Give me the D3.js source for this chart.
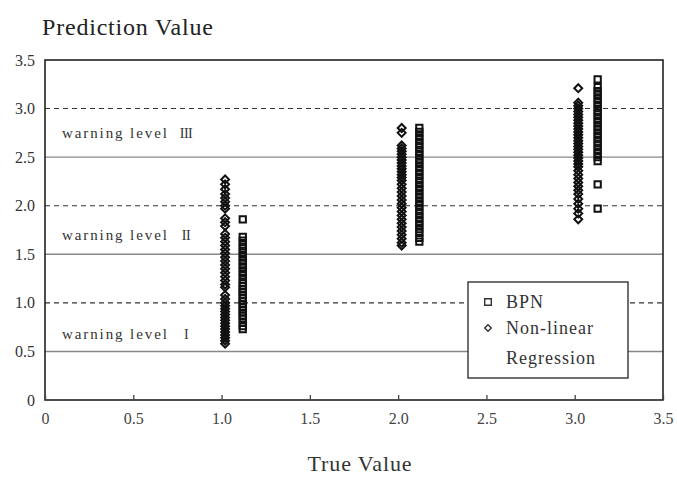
<!DOCTYPE html>
<html>
<head>
<meta charset="utf-8">
<script src="https://cdn.jsdelivr.net/npm/d3@7"></script>
<style>
  body { margin: 0; background: #fff; }
  svg text { font-family: "Liberation Serif", "DejaVu Serif", serif; }
</style>
</head>
<body>
<svg></svg>
<script>
// Chart dimensions and margins.
const width = 677;
const height = 477;
const marginTop = 60;
const marginRight = 14;
const marginBottom = 77;
const marginLeft = 45;

// Tick values
const xTicks = [0, 0.5, 1.0, 1.5, 2.0, 2.5, 3.0, 3.5];
const yTicks = [0, 0.5, 1.0, 1.5, 2.0, 2.5, 3.0, 3.5];
const dashedLevels = [1.0, 2.0, 3.0];
const solidLevels = [0.5, 1.5, 2.5];

// Warning level labels
const warnLabels = ["warning level", "warning level", "warning level"];
const warnNumerals = ["I", "II", "III"];
const warnY = [0.68, 1.7, 2.75];

// Non-linear regression predictions (diamonds), plotted just right of each true value
const nlr1x = 1.02;
const nlr1 = [2.27, 2.22, 2.17, 2.12, 2.08, 2.04, 2.00, 1.97, 1.87, 1.83, 1.79, 1.71, 1.67, 1.63,
  1.59, 1.55, 1.51, 1.47, 1.43, 1.39, 1.35, 1.31, 1.27, 1.23, 1.19, 1.16, 1.08, 1.04, 1.00, 0.97,
  0.94, 0.91, 0.88, 0.85, 0.82, 0.79, 0.76, 0.73, 0.70, 0.67, 0.64, 0.61, 0.58];
const nlr2x = 2.02;
const nlr2 = [2.80, 2.75, 2.62, 2.59, 2.56, 2.53, 2.50, 2.47, 2.44, 2.41, 2.38, 2.35, 2.32, 2.29,
  2.26, 2.22, 2.18, 2.14, 2.10, 2.06, 2.02, 1.98, 1.94, 1.90, 1.86, 1.82, 1.78, 1.74, 1.70, 1.66,
  1.62, 1.59];
const nlr3x = 3.02;
const nlr3 = [3.21, 3.06, 3.03, 3.00, 2.97, 2.94, 2.91, 2.88, 2.85, 2.82, 2.79, 2.76, 2.73, 2.70,
  2.67, 2.64, 2.61, 2.58, 2.55, 2.52, 2.49, 2.46, 2.43, 2.40, 2.36, 2.32, 2.28, 2.24, 2.20, 2.16,
  2.12, 2.07, 2.02, 1.97, 1.92, 1.86];

// BPN predictions (squares)
const bpn1x = 1.12;
const bpn1 = [1.86, 1.68, 1.64, 1.60, 1.56, 1.52, 1.48, 1.44, 1.40, 1.36, 1.32, 1.28, 1.24, 1.20,
  1.17, 1.14, 1.11, 1.08, 1.05, 1.02, 0.99, 0.96, 0.93, 0.90, 0.87, 0.84, 0.80, 0.76, 0.73];
const bpn2x = 2.12;
const bpn2 = [2.80, 2.76, 2.72, 2.68, 2.64, 2.60, 2.56, 2.52, 2.48, 2.44, 2.40, 2.36, 2.32, 2.28,
  2.24, 2.20, 2.16, 2.12, 2.08, 2.04, 2.00, 1.96, 1.92, 1.88, 1.84, 1.80, 1.76, 1.72, 1.67, 1.63];
const bpn3x = 3.13;
const bpn3 = [3.30, 3.22, 3.18, 3.14, 3.10, 3.06, 3.02, 2.98, 2.94, 2.90, 2.86, 2.82, 2.78, 2.74,
  2.70, 2.66, 2.62, 2.58, 2.54, 2.50, 2.46, 2.22, 1.97];

const nlrPoints = [
  ...nlr1.map(v => [nlr1x, v]),
  ...nlr2.map(v => [nlr2x, v]),
  ...nlr3.map(v => [nlr3x, v])
];
const bpnPoints = [
  ...bpn1.map(v => [bpn1x, v]),
  ...bpn2.map(v => [bpn2x, v]),
  ...bpn3.map(v => [bpn3x, v])
];

const serif = "Liberation Serif";

const svg = d3.select("svg")
    .attr("width", width)
    .attr("height", height)
    .attr("viewBox", [0, 0, width, height]);

const x = d3.scaleLinear([0, 3.5], [marginLeft, width - marginRight]);
const y = d3.scaleLinear([0, 3.5], [height - marginBottom, marginTop]);

// Title
svg.append("text")
    .attr("x", 42).attr("y", 35)
    .attr("font-family", serif)
    .attr("font-size", 24)
    .attr("letter-spacing", 0.8)
    .attr("fill", "#222")
    .text("Prediction Value");

// Grid lines
svg.append("g")
  .selectAll("line")
  .data(solidLevels)
  .join("line")
    .attr("x1", x(0)).attr("x2", x(3.5))
    .attr("y1", d => y(d)).attr("y2", d => y(d))
    .attr("stroke", "#888").attr("stroke-width", 1.4);

svg.append("g")
  .selectAll("line")
  .data(dashedLevels)
  .join("line")
    .attr("x1", x(0)).attr("x2", x(3.5))
    .attr("y1", d => y(d)).attr("y2", d => y(d))
    .attr("stroke", "#333").attr("stroke-width", 1.1)
    .attr("stroke-dasharray", "5,4");

// Frame
svg.append("rect")
    .attr("x", x(0)).attr("y", y(3.5))
    .attr("width", x(3.5) - x(0)).attr("height", y(0) - y(3.5))
    .attr("fill", "none").attr("stroke", "#222").attr("stroke-width", 1.6);

// X axis
svg.append("g")
    .attr("transform", `translate(0,${y(0)})`)
    .attr("font-family", serif)
    .call(d3.axisBottom(x).tickValues(xTicks).tickSize(-5).tickPadding(13)
      .tickFormat(d => d === 0 ? "0" : d3.format(".1f")(d)))
    .call(g => g.select(".domain").remove())
    .call(g => g.selectAll(".tick line").attr("stroke", "#444").attr("stroke-width", 1.3))
    .call(g => g.selectAll(".tick text")
      .attr("font-family", serif)
      .attr("font-size", 16).attr("fill", "#444"));

// Y axis
svg.append("g")
    .attr("transform", `translate(${x(0)},0)`)
    .attr("font-family", serif)
    .call(d3.axisLeft(y).tickValues(yTicks).tickSize(0).tickPadding(10)
      .tickFormat(d => d === 0 ? "0" : d3.format(".1f")(d)))
    .call(g => g.select(".domain").remove())
    .call(g => g.selectAll(".tick text")
      .attr("font-family", serif)
      .attr("font-size", 16).attr("fill", "#333"));

// X title
svg.append("text")
    .attr("x", 360).attr("y", 471)
    .attr("text-anchor", "middle")
    .attr("font-family", serif)
    .attr("font-size", 22).attr("letter-spacing", 0.9).attr("fill", "#333")
    .text("True Value");

// Warning level labels
const warn = svg.append("g").attr("font-family", serif);
warn.selectAll("text.w")
  .data(warnY)
  .join("text")
    .attr("class", "w")
    .attr("x", 62).attr("y", d => y(d) + 5)
    .attr("font-family", serif)
    .attr("font-size", 15).attr("letter-spacing", 1.9).attr("fill", "#333")
    .text((d, i) => warnLabels[i]);
warn.selectAll("text.n")
  .data(warnY)
  .join("text")
    .attr("class", "n")
    .attr("x", 186).attr("y", d => y(d) + 5)
    .attr("text-anchor", "middle")
    .attr("font-family", serif)
    .attr("font-size", 14).attr("letter-spacing", -0.5).attr("fill", "#333")
    .text((d, i) => warnNumerals[i]);

// Non-linear regression points (diamonds)
const diamond = d3.symbol(d3.symbolDiamond2, 40);
svg.append("g")
  .selectAll("path")
  .data(nlrPoints)
  .join("path")
    .attr("transform", d => `translate(${x(d[0])},${y(d[1])})`)
    .attr("d", diamond)
    .attr("fill", "none").attr("stroke", "#111").attr("stroke-width", 2);

// BPN points (squares)
const square = d3.symbol(d3.symbolSquare2, 50);
svg.append("g")
  .selectAll("path")
  .data(bpnPoints)
  .join("path")
    .attr("transform", d => `translate(${x(d[0])},${y(d[1])})`)
    .attr("d", square)
    .attr("fill", "none").attr("stroke", "#111").attr("stroke-width", 2);

// Legend
const legend = svg.append("g").attr("font-family", serif);
legend.append("rect")
    .attr("x", 468).attr("y", 282).attr("width", 160).attr("height", 96)
    .attr("fill", "#fff").attr("stroke", "#333").attr("stroke-width", 1.4);
legend.append("path")
    .attr("transform", "translate(488,302)")
    .attr("d", d3.symbol(d3.symbolSquare2, 55))
    .attr("fill", "none").attr("stroke", "#333").attr("stroke-width", 1.4);
legend.append("path")
    .attr("transform", "translate(488,328)")
    .attr("d", d3.symbol(d3.symbolDiamond2, 28))
    .attr("fill", "none").attr("stroke", "#333").attr("stroke-width", 1.4);
legend.append("text").attr("x", 506).attr("y", 308)
    .attr("font-family", serif)
    .attr("font-size", 18).attr("letter-spacing", 1).attr("fill", "#333").text("BPN");
legend.append("text").attr("x", 506).attr("y", 334)
    .attr("font-family", serif)
    .attr("font-size", 18).attr("letter-spacing", 1).attr("fill", "#333").text("Non-linear");
legend.append("text").attr("x", 506).attr("y", 364)
    .attr("font-family", serif)
    .attr("font-size", 18).attr("letter-spacing", 1).attr("fill", "#333").text("Regression");
</script>
</body>
</html>
